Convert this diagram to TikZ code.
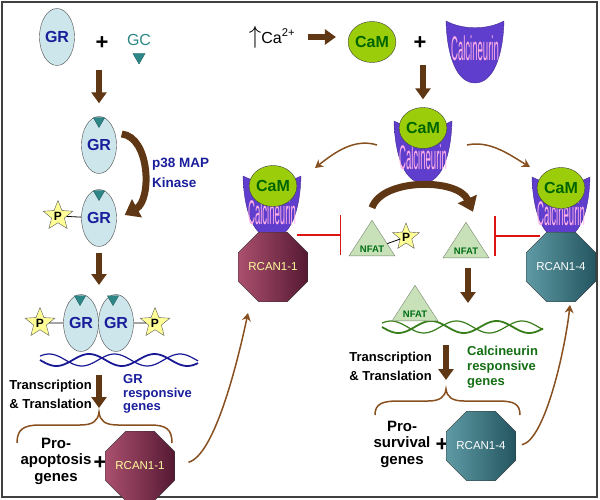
\documentclass[tikz,border=0pt]{standalone}
\usepackage{xcolor}
\usepackage{fontspec}
\setmainfont{Liberation Sans}
\usepackage{tikz}
\usetikzlibrary{arrows.meta, calc, shapes.geometric}

\definecolor{grfill}{RGB}{205,230,236}
\definecolor{grtext}{RGB}{25,30,155}
\definecolor{gcteal}{RGB}{45,135,135}
\definecolor{arrbrown}{RGB}{95,55,20}
\definecolor{thinbrown}{RGB}{135,80,30}
\definecolor{camfill}{RGB}{155,205,10}
\definecolor{camtext}{RGB}{0,100,0}
\definecolor{calclight}{RGB}{128,108,238}
\definecolor{calcdark}{RGB}{95,62,205}
\definecolor{calctext}{RGB}{255,175,230}
\definecolor{nfatfill}{RGB}{200,225,185}
\definecolor{nfattext}{RGB}{0,110,20}
\definecolor{starfill}{RGB}{255,255,150}
\definecolor{rcanAlight}{RGB}{170,80,110}
\definecolor{rcanAdark}{RGB}{85,25,50}
\definecolor{rcanAtext}{RGB}{255,255,160}
\definecolor{rcanBlight}{RGB}{95,155,165}
\definecolor{rcanBdark}{RGB}{35,85,95}
\definecolor{dnablue}{RGB}{25,25,150}
\definecolor{dnagreen}{RGB}{55,125,25}
\definecolor{inhred}{RGB}{220,20,20}
\definecolor{gengreen}{RGB}{20,110,20}

\newcommand{\calcup}[2]{
  \shade[top color=calcdark, middle color=calclight, bottom color=calcdark, draw=calcdark!70!black, shift={(#1,#2)}]
    (-29,-31) .. controls (-12,-22) and (12,-22) .. (29,-31)
    .. controls (28,5) and (18,31) .. (0,31)
    .. controls (-18,31) and (-28,5) .. (-29,-31) -- cycle;
}

\begin{document}
\begin{tikzpicture}[x=1pt, y=-1pt,
  grell/.style={ellipse, draw=gray!60!black, fill=grfill, minimum width=35pt, minimum height=57pt, inner sep=0pt, text=grtext, font=\fontsize{16}{16}\selectfont\bfseries},
  ligand/.style={regular polygon, regular polygon sides=3, shape border rotate=180, minimum size=14pt, inner sep=0pt, fill=gcteal, draw=gcteal!70!black},
  pstar/.style={star, star points=5, star point ratio=2.3, minimum size=31pt, inner sep=0pt, draw=gray!70!black, fill=starfill, font=\fontsize{12}{12}\selectfont\bfseries},
  cam/.style={ellipse, draw=gray!50!black, fill=camfill, minimum width=44pt, minimum height=41pt, inner sep=0pt, text=camtext, font=\fontsize{16}{16}\selectfont\bfseries},
  calctxt/.style={text=calctext, font=\fontsize{18}{18}\selectfont, inner sep=0pt},
  rcan/.style={regular polygon, regular polygon sides=8, minimum size=60pt, inner sep=0pt, draw=gray!40!black, font=\fontsize{11.5}{11.5}\selectfont},
  rcanone/.style={rcan, left color=rcanAlight, right color=rcanAdark, text=rcanAtext},
  rcanfour/.style={rcan, left color=rcanBlight, right color=rcanBdark, text=white},
  nfat/.style={isosceles triangle, isosceles triangle stretches, shape border rotate=90, minimum width=46pt, minimum height=32pt, inner sep=0pt, fill=nfatfill, draw=nfatfill!60!black, text=nfattext, font=\fontsize{9.5}{9.5}\selectfont\bfseries},
  blockarr/.style={draw=arrbrown, line width=6pt, -{Triangle[width=15pt, length=11pt]}},
  bigarr/.style={draw=arrbrown, line width=7pt, -{Triangle[width=20pt, length=14pt]}},
  thinarr/.style={draw=thinbrown, line width=1.5pt, -{Stealth[width=9pt, length=8pt]}},
  inhib/.style={draw=inhred, line width=1.5pt, -{Bar[width=40pt]}},
  lbl/.style={font=\fontsize{13}{19}\selectfont\bfseries, inner sep=0pt},
  plus/.style={font=\fontsize{22}{22}\selectfont\bfseries, inner sep=0pt},
  brace/.style={draw=thinbrown, line width=1.5pt}
]
\useasboundingbox (0,0) rectangle (600,500);
\draw[line width=1.3pt, black!75] (2,2) rectangle (597,497);

\node[grell] (gr1) at (57,37) {GR};
\node[plus] (plus1) at (102,43) {+};
\node[text=gcteal, font=\fontsize{16}{16}\selectfont] (gc) at (139,40) {GC};
\node[ligand] (gctri) at (139,57) {};
\coordinate (a1s) at (99,70);
\node[grell] (gr2) at (99,145) {GR};
\node[ligand, minimum size=13pt] (lig2) at (99,121) {};
\draw[blockarr, shorten >=13pt] (a1s) -- (gr2);
\node[grell] (gr3) at (99,218) {GR};
\node[ligand, minimum size=13pt] (lig3) at (99,194) {};
\node[pstar] (p1) at (58,216) {P};
\draw[thick] (p1) -- (gr3);
\draw[bigarr] ($(gr2.east)+(5,-11)$) .. controls (150,137) and (152,200) .. ($(gr3.east)+(8,-3)$);
\node[lbl, text=grtext, align=left, anchor=west, font=\fontsize{13.5}{20}\selectfont\bfseries] (p38) at (152,173) {p38 MAP\\Kinase};

\coordinate (dim) at (99,285);
\draw[blockarr, shorten <=6pt] (gr3) -- (dim);
\node[grell] (grA) at (81,323) {GR};
\node[grell] (grB) at (116,323) {GR};
\node[ligand, minimum size=13pt] (ligA) at (80,299) {};
\node[ligand, minimum size=13pt] (ligB) at (113,299) {};
\node[pstar] (pA) at (40,323) {P};
\node[pstar] (pB) at (155,323) {P};
\draw[thick] (pA) -- (grA);
\draw[thick] (pB) -- (grB);
\draw[dnablue, line width=1.8pt, domain=40:198, samples=80, smooth] plot (\x, {360+6*sin(5.5*(\x-40))});
\draw[dnablue, line width=1.2pt, domain=40:198, samples=80, smooth] plot (\x, {360-6*sin(5.5*(\x-40)+40)});

\coordinate (tr1s) at (99,375);
\coordinate (tr1e) at (99,408);
\draw[blockarr] (tr1s) -- (tr1e);
\node[lbl, align=right, anchor=east] (trA) at (92,394) {Transcription\\\& Translation};
\node[lbl, align=left, anchor=west, text=grtext, font=\fontsize{13}{13.5}\selectfont\bfseries] (grgenes) at (123,394) {GR\\responsive\\genes};
\draw[brace] (17,443) .. controls (17,429) and (24,425) .. (40,425) -- (80,425) .. controls (93,425) and (98,421) .. (99,412) .. controls (100,421) and (105,425) .. (118,425) -- (150,425) .. controls (166,425) and (172,429) .. (172,443);
\node[lbl, align=center, font=\fontsize{15}{16.5}\selectfont\bfseries] (proapo) at (56,461) {Pro-\\apoptosis\\genes};
\node[plus] (plus3) at (100,463) {+};
\node[rcanone] (rcanA) at (140,466) {RCAN1-1};
\coordinate (toL2) at (248,313);
\draw[thinarr, shorten <=14pt] (rcanA.east) .. controls (215,455) and (238,360) .. (toL2);

\node[font=\fontsize{16}{16}\selectfont] (ca) at (272,37) {{\fontsize{24}{24}\selectfont$\uparrow$}Ca\textsuperscript{2+}};
\node[cam] (cam1) at (372,42) {CaM};
\draw[blockarr, shorten <=9pt, shorten >=12pt] (ca.east) -- (ca.east -| cam1.west);
\node[plus] (plus2) at (420,43) {+};
\calcup{475}{52}
\node[calctxt] (calc1) at (475,48) {\scalebox{0.53}[1.9]{Calcineurin}};

\coordinate (a5s) at (423,65);
\calcup{423}{152}
\node[calctxt] (calc2) at (423,157) {\scalebox{0.53}[1.9]{Calcineurin}};
\node[cam] (cam2) at (423,128) {CaM};
\draw[blockarr, shorten >=8pt] (a5s) -- (cam2);
\coordinate (fromL) at (377,145);
\coordinate (toL) at (315,168);
\coordinate (fromR) at (467,145);
\coordinate (toR) at (530,167);
\draw[thinarr] (fromL) .. controls (355,138) and (335,152) .. (toL);
\draw[thinarr] (fromR) .. controls (490,140) and (510,155) .. (toR);

\calcup{272}{207}
\node[calctxt] (calc3) at (272,212) {\scalebox{0.53}[1.9]{Calcineurin}};
\node[cam] (cam3) at (273,186) {CaM};
\node[rcanone] (rcanL) at (273,267) {RCAN1-1};
\calcup{561}{208}
\node[calctxt] (calc4) at (561,213) {\scalebox{0.53}[1.9]{Calcineurin}};
\node[cam] (cam4) at (561,188) {CaM};
\node[rcanfour] (rcanR) at (561,267) {RCAN1-4};

\node[nfat] (nfatP) at (372,249) {NFAT};
\node[pstar, minimum size=28pt] (p4) at (406,237) {P};
\draw[thick] (nfatP) -- (p4);
\node[nfat] (nfat2) at (466,251) {NFAT};
\draw[bigarr] ($(nfatP.north)+(0,-12)$) .. controls (382,178) and (458,178) .. ($(nfat2.north)+(7,-10)$);
\coordinate (inhL) at (297,235);
\coordinate (barL) at (341,235);
\draw[inhib] (inhL) -- (barL);
\coordinate (inhR) at (540,236);
\coordinate (barR) at (494,236);
\draw[inhib] (inhR) -- (barR);

\coordinate (a6s) at (468,268);
\coordinate (a6e) at (468,303);
\draw[blockarr] (a6s) -- (a6e);
\draw[dnagreen, line width=1.8pt, domain=382:543, samples=80, smooth] plot (\x, {327+6*sin(5.5*(\x-382))});
\draw[dnagreen, line width=1.2pt, domain=382:543, samples=80, smooth] plot (\x, {327-6*sin(5.5*(\x-382)+40)});
\node[nfat] (nfat3) at (415,314) {NFAT};

\coordinate (a7s) at (446,345);
\coordinate (a7e) at (446,380);
\draw[blockarr] (a7s) -- (a7e);
\node[lbl, align=right, anchor=east] (trB) at (432,366) {Transcription\\\& Translation};
\node[lbl, align=left, anchor=west, text=gengreen, font=\fontsize{13}{15}\selectfont\bfseries] (cngenes) at (467,367) {Calcineurin\\responsive\\genes};
\draw[brace] (375,415) .. controls (375,404) and (382,401) .. (398,401) -- (428,401) .. controls (440,401) and (445,397) .. (446,389) .. controls (447,397) and (452,401) .. (464,401) -- (498,401) .. controls (514,401) and (520,404) .. (520,415);
\node[lbl, align=center, font=\fontsize{15}{16.5}\selectfont\bfseries] (prosurv) at (402,444) {Pro-\\survival\\genes};
\node[plus] (plus4) at (442,445) {+};
\node[rcanfour] (rcanB) at (481,446) {RCAN1-4};
\coordinate (toR2) at (570,305);
\draw[thinarr, shorten <=6pt] (rcanB.east) .. controls (545,440) and (565,350) .. (toR2);
\end{tikzpicture}
\end{document}
